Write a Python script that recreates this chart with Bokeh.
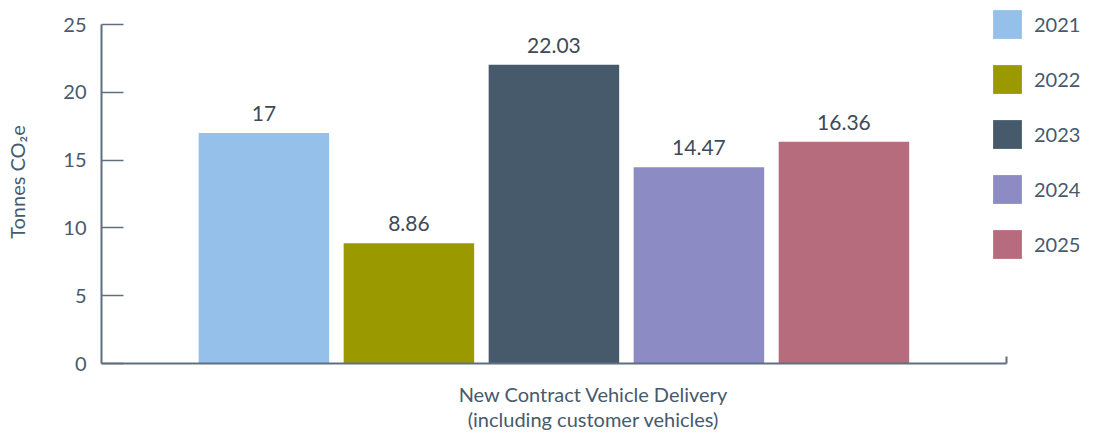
from bokeh.plotting import figure
from bokeh.models import Range1d, ColumnDataSource, LabelSet, Legend, LegendItem, FixedTicker
from bokeh.core.properties import value
from bokeh.embed import file_html
from bokeh.resources import INLINE

years = ["2021", "2022", "2023", "2024", "2025"]
values = [17, 8.86, 22.03, 14.47, 16.36]
colors = ["#95c0e9", "#9a9a00", "#475a6c", "#8c8bc4", "#b76c7d"]
category = "New Contract Vehicle Delivery\n(including customer vehicles)"
y_ticks = [0, 5, 10, 15, 20, 25]

FONT = "Lato"
TXT = "#475a6c"
AXC = "#5f6f7e"

n = len(years)
src = ColumnDataSource(dict(x=list(range(n)), top=values, color=colors,
                            label=[f"{v:g}" for v in values]))

x_lo, x_hi = -1.12, n - 1 + 1.12
p = figure(x_range=Range1d(x_lo, 5.666), y_range=Range1d(0, 26.77),
           width=1085, height=434,
           min_border_left=101, min_border_top=0, min_border_right=0, min_border_bottom=71,
           output_backend="svg", toolbar_location=None)

r = p.vbar(x="x", top="top", width=0.9, color="color", source=src, line_color=None)

p.add_layout(LabelSet(x="x", y="top", text="label", source=src, y_offset=12,
                      text_align="center", text_baseline="alphabetic",
                      text_font=value(FONT), text_font_size=value("21px"), text_color="#3e4a57"))

legend = Legend(items=[LegendItem(label=yr, renderers=[r], index=i) for i, yr in enumerate(years)],
                location=(888, 101), orientation="vertical",
                glyph_width=36, glyph_height=36, spacing=19, label_standoff=9,
                padding=0, margin=0, border_line_alpha=0, background_fill_alpha=0,
                label_text_font=FONT, label_text_font_size="20px", label_text_color=TXT,
                label_height=36)
p.add_layout(legend, "center")

p.grid.visible = False
p.outline_line_color = None

ya = p.yaxis[0]
ya.bounds = (0, 25)
ya.ticker = FixedTicker(ticks=y_ticks)
ya.major_tick_in = 22
ya.major_tick_out = 0
ya.minor_tick_line_color = None
ya.major_tick_line_color = AXC
ya.major_tick_line_width = 1.5
ya.axis_line_color = AXC
ya.axis_line_width = 2
ya.major_label_text_font = FONT
ya.major_label_text_font_size = "20px"
ya.major_label_text_color = TXT
ya.major_label_standoff = 15
ya.axis_label = "Tonnes CO₂e"
ya.axis_label_text_font = FONT
ya.axis_label_text_font_size = "20px"
ya.axis_label_text_font_style = "normal"
ya.axis_label_text_color = TXT
ya.axis_label_standoff = 31

xa = p.xaxis[0]
xa.bounds = (x_lo, x_hi)
xa.ticker = FixedTicker(ticks=[], minor_ticks=[x_hi])
xa.major_tick_line_color = None
xa.minor_tick_in = 7
xa.minor_tick_out = 0
xa.minor_tick_line_color = AXC
xa.minor_tick_line_width = 2
xa.axis_line_color = AXC
xa.axis_line_width = 2
xa.axis_label = category
xa.axis_label_text_font = FONT
xa.axis_label_text_font_size = "20px"
xa.axis_label_text_font_style = "normal"
xa.axis_label_text_color = TXT
xa.axis_label_text_line_height = 1.05
xa.axis_label_standoff = 18

open("out.html", "w").write(file_html(p, INLINE))
